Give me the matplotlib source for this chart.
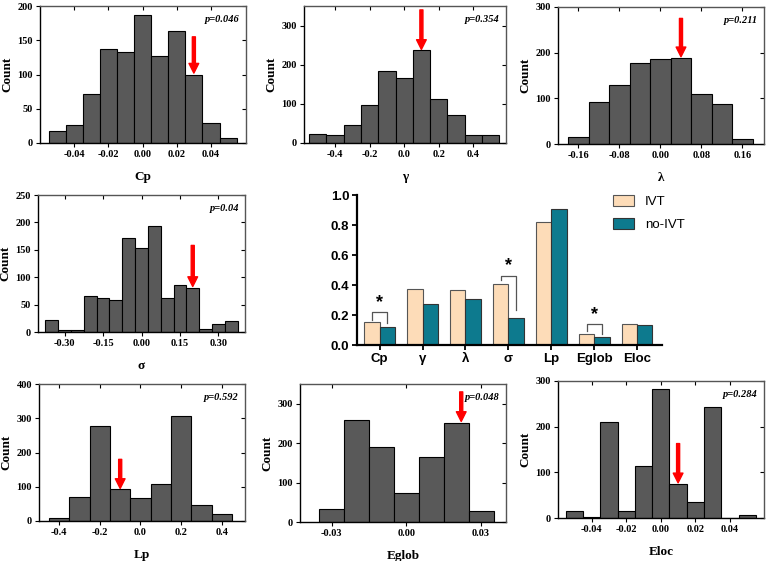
import matplotlib
matplotlib.use("Agg")
import matplotlib.pyplot as plt
import matplotlib.lines as mlines
import numpy as np

W, H = 767, 561

# ---------------- data ----------------
cp_centers = [-0.05, -0.04, -0.03, -0.02, -0.01, 0.00, 0.01, 0.02, 0.03, 0.04, 0.05]
cp_counts = [17, 26, 71, 137, 133, 187, 127, 164, 100, 29, 7]

gamma_centers = [-0.5, -0.4, -0.3, -0.2, -0.1, 0.0, 0.1, 0.2, 0.3, 0.4, 0.5]
gamma_counts = [22, 20, 47, 98, 185, 166, 237, 113, 71, 20, 20]

lambda_centers = [-0.16, -0.12, -0.08, -0.04, 0.00, 0.04, 0.08, 0.12, 0.16]
lambda_counts = [16, 92, 129, 178, 187, 189, 109, 88, 12]

sigma_centers = [-0.35, -0.30, -0.25, -0.20, -0.15, -0.10, -0.05, 0.00, 0.05,
                 0.10, 0.15, 0.20, 0.25, 0.30, 0.35]
sigma_counts = [22, 4, 3, 66, 62, 58, 171, 154, 193, 62, 85, 80, 6, 14, 20]

lp_centers = [-0.4, -0.3, -0.2, -0.1, 0.0, 0.1, 0.2, 0.3, 0.4]
lp_counts = [8, 71, 278, 92, 67, 108, 308, 48, 21]

eglob_centers = [-0.03, -0.02, -0.01, 0.00, 0.01, 0.02, 0.03]
eglob_counts = [33, 258, 191, 73, 165, 252, 28]

eloc_centers = [-0.05, -0.04, -0.03, -0.02, -0.01, 0.00, 0.01, 0.02, 0.03, 0.04, 0.05]
eloc_counts = [15, 3, 211, 15, 113, 283, 74, 35, 242, 0, 7]

p_values = ["p=0.046", "p=0.354", "p=0.211", "p=0.04", "p=0.592", "p=0.048", "p=0.284"]
arrow_x = [0.03, 0.1, 0.04, 0.2, -0.1, 0.022, 0.01]
arrow_tail = [155, 340, 275, 158, 180, 330, 163]
arrow_tip = [102, 239, 191, 83, 95, 255, 77]

bar_labels = ["Cp", "γ", "λ", "σ", "Lp", "Eglob", "Eloc"]
ivt_values = [0.155, 0.375, 0.368, 0.405, 0.818, 0.075, 0.142]
noivt_values = [0.123, 0.272, 0.308, 0.183, 0.905, 0.052, 0.135]

# ---------------- figure ----------------
fig = plt.figure(figsize=(W / 100, H / 100), dpi=100)

def box(x0, y0, x1, y1):
    return [x0 / W, 1 - y1 / H, (x1 - x0) / W, (y1 - y0) / H]

serif = "Liberation Serif"

hists = [
    dict(c=cp_centers, n=cp_counts, w=0.01, xl="Cp", xlim=(-0.06, 0.0605), ylim=(0, 200),
         xt=[-0.04, -0.02, 0.0, 0.02, 0.04], xf="{:.2f}", yt=[0, 50, 100, 150, 200],
         pos=box(40, 6, 246, 143)),
    dict(c=gamma_centers, n=gamma_counts, w=0.1, xl="γ", xlim=(-0.58, 0.59), ylim=(0, 350),
         xt=[-0.4, -0.2, 0.0, 0.2, 0.4], xf="{:.1f}", yt=[0, 100, 200, 300],
         pos=box(304, 6, 506, 143)),
    dict(c=lambda_centers, n=lambda_counts, w=0.04, xl="λ", xlim=(-0.2, 0.202), ylim=(0, 300),
         xt=[-0.16, -0.08, 0.0, 0.08, 0.16], xf="{:.2f}", yt=[0, 100, 200, 300],
         pos=box(558, 7, 764, 144)),
    dict(c=sigma_centers, n=sigma_counts, w=0.05, xl="σ", xlim=(-0.404, 0.404), ylim=(0, 250),
         xt=[-0.30, -0.15, 0.0, 0.15, 0.30], xf="{:.2f}", yt=[0, 50, 100, 150, 200, 250],
         pos=box(38, 195, 245, 332)),
    dict(c=lp_centers, n=lp_counts, w=0.1, xl="Lp", xlim=(-0.5, 0.515), ylim=(0, 400),
         xt=[-0.4, -0.2, 0.0, 0.2, 0.4], xf="{:.1f}", yt=[0, 100, 200, 300, 400],
         pos=box(39, 384, 245, 521)),
    dict(c=eglob_centers, n=eglob_counts, w=0.01, xl="Eglob", xlim=(-0.0428, 0.040), ylim=(0, 350),
         xt=[-0.03, 0.0, 0.03], xf="{:.2f}", yt=[0, 100, 200, 300],
         pos=box(300, 384, 506, 522)),
    dict(c=eloc_centers, n=eloc_counts, w=0.01, xl="Eloc", xlim=(-0.0595, 0.0597), ylim=(0, 300),
         xt=[-0.04, -0.02, 0.0, 0.02, 0.04], xf="{:.2f}", yt=[0, 100, 200, 300],
         pos=box(558, 381, 764, 518)),
]

for i, h in enumerate(hists):
    ax = fig.add_axes(h["pos"])
    ax.bar(h["c"], h["n"], width=h["w"], color="#595959", edgecolor="black", linewidth=0.8)
    ax.set_xlim(*h["xlim"])
    ax.set_ylim(*h["ylim"])
    ax.set_xticks(h["xt"])
    ax.set_xticklabels([h["xf"].format(0.0 if abs(v) < 1e-12 else v) for v in h["xt"]],
                       fontfamily=serif, fontweight="bold", fontsize=7.5)
    ax.set_yticks(h["yt"])
    ax.set_yticklabels([str(v) for v in h["yt"]], fontfamily=serif, fontweight="bold", fontsize=7.5)
    ax.tick_params(axis="both", direction="out", length=3, width=0.8, pad=2,
                   top=True, right=True)
    # mirrored ticks on top/right point inward
    for t in ax.xaxis.get_major_ticks():
        t.tick2line.set_marker(mlines.TICKDOWN)
        t.tick2line.set_color("#555555")
    for t in ax.yaxis.get_major_ticks():
        t.tick2line.set_marker(mlines.TICKLEFT)
        t.tick2line.set_color("#555555")
    for s in ["top", "right"]:
        ax.spines[s].set_color("#555555")
        ax.spines[s].set_zorder(5)
    for s in ax.spines.values():
        s.set_linewidth(1.0)
    ax.set_xlabel(h["xl"], fontfamily=serif, fontweight="bold", fontsize=9.5, labelpad=9)
    ax.set_ylabel("Count", fontfamily=serif, fontweight="bold", fontsize=9.5, labelpad=3)
    ax.text(0.97, 0.9, p_values[i], transform=ax.transAxes, ha="right", va="center",
            fontfamily=serif, fontweight="bold", fontstyle="italic", fontsize=7.5)
    ax.annotate("", xy=(arrow_x[i], arrow_tip[i]), xytext=(arrow_x[i], arrow_tail[i]),
                arrowprops=dict(facecolor="#ff0000", edgecolor="#ff0000", width=2.2,
                                headwidth=7, headlength=7, shrink=0))

# ---------------- bar chart ----------------
sans = "Liberation Sans"
bx = fig.add_axes(box(357, 195, 662, 345))
x = np.arange(len(bar_labels))
bw = 0.357
bx.bar(x - bw / 2, ivt_values, width=bw, color="#fddcb8", edgecolor="#555555",
       linewidth=0.8, label="IVT")
bx.bar(x + bw / 2, noivt_values, width=bw, color="#0d7a8e", edgecolor="#333333",
       linewidth=0.8, label="no-IVT")
bx.set_xlim(-0.527, 6.58)
bx.set_ylim(0, 1.0)
bx.set_yticks(np.arange(0, 1.01, 0.2))
bx.set_yticklabels([f"{v:.1f}" for v in np.arange(0, 1.01, 0.2)],
                   fontfamily=sans, fontweight="bold", fontsize=9.5)
bx.set_xticks(x)
bx.set_xticklabels(bar_labels, fontfamily=sans, fontweight="bold", fontsize=9.5)
bx.spines["top"].set_visible(False)
bx.spines["right"].set_visible(False)
bx.spines["left"].set_linewidth(1.6)
bx.spines["bottom"].set_linewidth(1.6)
bx.tick_params(axis="both", direction="out", length=3.5, width=1.3, pad=2)

# significance brackets (Cp, σ, Eglob)
sig = [(0, 0.218, 0.168, 0.147, 0.285), (3, 0.462, 0.431, 0.236, 0.53), (5, 0.138, 0.091, 0.076, 0.203)]
for idx, top, yl, yr, ys in sig:
    xl_, xr_ = idx - bw / 2, idx + bw / 2
    bx.plot([xl_, xl_, xr_, xr_], [yl, top, top, yr], color="#555555", lw=0.9)
    bx.text(idx, ys, "*", ha="center", va="center", fontfamily=sans, fontweight="bold",
            fontsize=13)

leg = bx.legend(loc="upper left", bbox_to_anchor=((613 - 357) / 305, 1.0), frameon=False,
                prop=dict(family=sans, size=9.5), handlelength=1.6, handleheight=0.9,
                labelspacing=0.75, borderaxespad=0.0, borderpad=0.0, handletextpad=0.8)

fig.savefig("out.png", dpi=100)
